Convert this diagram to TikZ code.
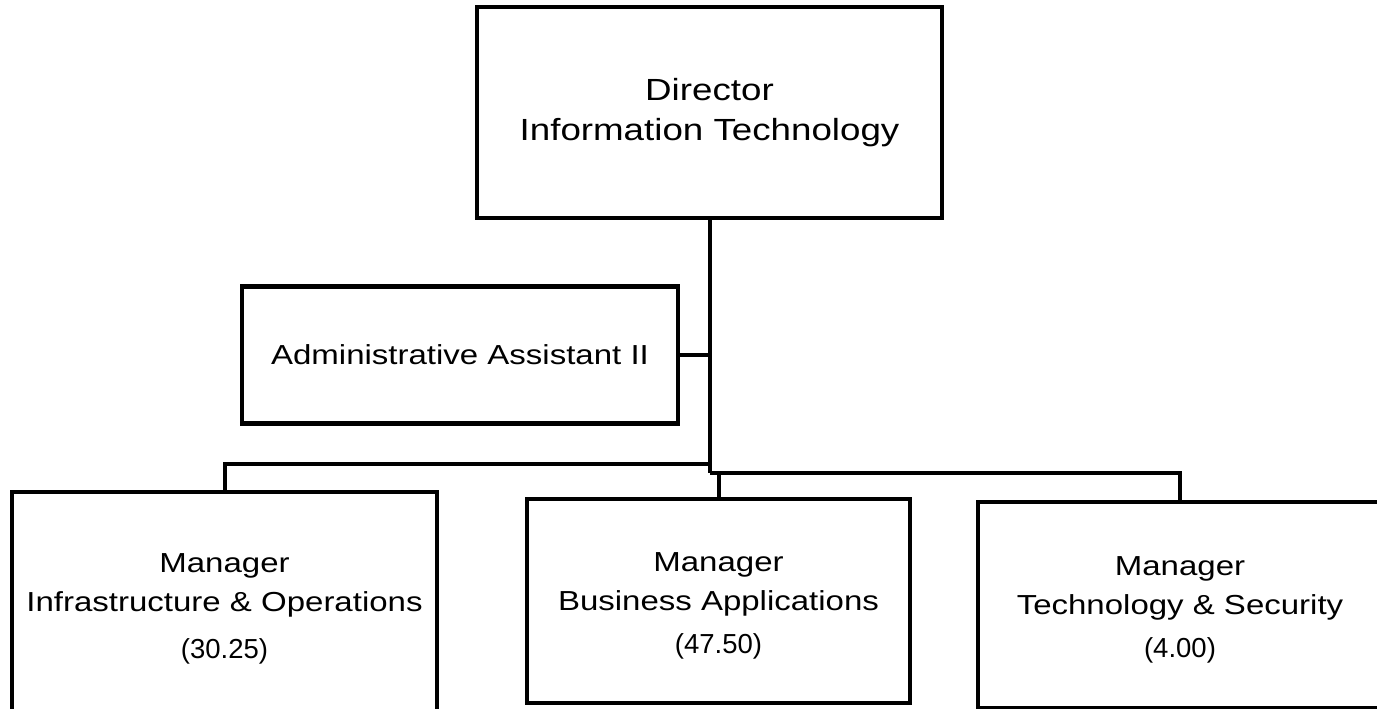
\documentclass[tikz,border=0pt]{standalone}
\usepackage{fontspec}
\setmainfont{Liberation Sans}[FakeStretch=1.2]
\newfontfamily\numfont{Liberation Sans}
\tikzset{
  orgbox/.style={draw,line width=4.5pt,align=center,inner sep=0pt},
  link/.style={line width=4pt},
  bigtext/.style={font=\fontsize{30.6}{40}\selectfont},
  midtext/.style={font=\fontsize{27.5}{39}\selectfont},
}
% pushes the text block a bit below the box centre
\newcommand{\lowshift}{\rule{0pt}{28pt}}
\newcommand{\fte}[1]{{\numfont\fontsize{27.5}{30}\selectfont(#1)}}

\begin{document}
\begin{tikzpicture}[x=1pt,y=-1pt]
  \useasboundingbox (0,0) rectangle (1377,709);
  \clip (0,0) rectangle (1377,709);

  \node[orgbox,bigtext,minimum width=465pt,minimum height=211pt] (dir) at (709.5,112.5)
       {Director\\Information Technology};
  \node[orgbox,midtext,minimum width=436pt,minimum height=137pt] (admin) at (460,355)
       {Administrative Assistant II};

  \node[orgbox,midtext,minimum width=425pt,minimum height=224pt] (infra) at (224.5,604)
       {\lowshift Manager\\Infrastructure \& Operations\\[8pt]\fte{30.25}};
  \node[orgbox,midtext,minimum width=383pt,minimum height=204pt] (busapp) at (718.5,601)
       {\lowshift Manager\\Business Applications\\[4pt]\fte{47.50}};
  \node[orgbox,midtext,minimum width=404pt,minimum height=206pt] (techsec) at (1180,605)
       {\lowshift Manager\\Technology \& Security\\[4pt]\fte{4.00}};

  % junctions under the director
  \path (dir.south) ++(0,244) coordinate (jl) ++(0,9) coordinate (jr);

  \draw[link] (dir.south) -- (jr);
  \draw[link] (admin.east) -- (admin.east -| dir.south);
  \draw[link] (jl) -| (infra.north);
  \draw[link] (jr) -| (techsec.north);
  \draw[link] (jr -| busapp.north) -- (busapp.north);
\end{tikzpicture}
\end{document}
